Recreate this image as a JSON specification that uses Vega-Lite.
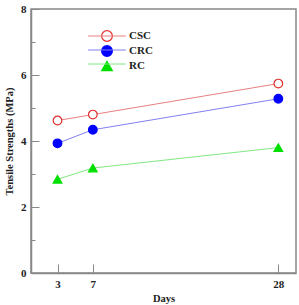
{
  "$schema": "https://vega.github.io/schema/vega-lite/v6.json",
  "width": 265,
  "height": 264,
  "autosize": {"type": "none"},
  "padding": {"left": 31, "top": 9, "right": 3, "bottom": 32},
  "background": "white",
  "config": {
    "view": {"stroke": "#888888", "strokeWidth": 1.5},
    "font": "Liberation Serif",
    "axis": {"domainColor": "#888888", "domainWidth": 1.5, "tickColor": "#888888", "grid": false,
      "labelFont": "Liberation Serif", "labelFontWeight": "bold", "labelFontSize": 11, "labelColor": "#222222",
      "titleFont": "Liberation Serif", "titleFontWeight": "bold", "titleFontSize": 10.5, "titleColor": "#222222"},
    "legend": {"labelFont": "Liberation Serif", "labelFontWeight": "bold", "labelFontSize": 11, "labelColor": "#222222", "padding": 0}
  },
  "data": {"values": [
    {"series": "CSC", "day": 3, "strength": 4.62},
    {"series": "CSC", "day": 7, "strength": 4.8},
    {"series": "CSC", "day": 28, "strength": 5.74},
    {"series": "CRC", "day": 3, "strength": 3.93},
    {"series": "CRC", "day": 7, "strength": 4.34},
    {"series": "CRC", "day": 28, "strength": 5.28},
    {"series": "RC", "day": 3, "strength": 2.84},
    {"series": "RC", "day": 7, "strength": 3.18},
    {"series": "RC", "day": 28, "strength": 3.8}
  ]},
  "layer": [
    {
      "mark": {"type": "line", "strokeWidth": 1},
      "encoding": {
        "x": {"field": "day", "type": "quantitative", "scale": {"domain": [0, 30], "nice": false},
          "axis": {"values": [3, 7, 28], "tickSize": -9, "labelPadding": 14, "title": "Days", "titlePadding": 4}},
        "y": {"field": "strength", "type": "quantitative", "scale": {"domain": [0, 8], "nice": false},
          "axis": {"values": [0, 2, 4, 6, 8], "tickSize": -8, "labelPadding": 13, "title": "Tensile Strengths (MPa)", "titlePadding": 6}},
        "stroke": {"field": "series", "type": "nominal", "sort": ["CSC", "CRC", "RC"],
          "scale": {"range": ["#e88080", "#8080f0", "#80e880"]},
          "legend": {"orient": "none", "legendX": 70, "legendY": 21, "title": null, "symbolType": "M-3.6,0H3.6", "symbolSize": 110, "symbolStrokeWidth": 1, "rowPadding": 3, "labelOpacity": 0, "labelOffset": 16}}
      }
    },
    {
      "mark": {"type": "point", "size": 75, "strokeWidth": 1.2, "opacity": 1},
      "encoding": {
        "x": {"field": "day", "type": "quantitative"},
        "y": {"field": "strength", "type": "quantitative",
          "axis": {"values": [1, 3, 5, 7], "orient": "left", "tickSize": -4, "labels": false, "domain": false, "title": null}},
        "shape": {"field": "series", "type": "nominal",
          "scale": {"domain": ["CSC", "CRC", "RC"], "range": ["circle", "circle", "triangle-up"]},
          "legend": {"orient": "none", "legendX": 70, "legendY": 21, "title": null, "symbolSize": 115, "symbolStrokeWidth": 1.2, "rowPadding": -1, "labelOffset": 16}},
        "color": {"field": "series", "type": "nominal",
          "scale": {"domain": ["CSC", "CRC", "RC"], "range": ["#e03030", "#0000ff", "#00e000"]},
          "legend": {"orient": "none", "legendX": 70, "legendY": 21, "title": null, "symbolSize": 115, "symbolStrokeWidth": 1.2, "rowPadding": -1, "labelOffset": 16}},
        "fill": {"field": "series", "type": "nominal",
          "scale": {"domain": ["CSC", "CRC", "RC"], "range": ["#ffffff", "#0000ff", "#00e000"]},
          "legend": {"orient": "none", "legendX": 70, "legendY": 21, "title": null, "symbolSize": 115, "symbolStrokeWidth": 1.2, "rowPadding": -1, "labelOffset": 16}}
      }
    }
  ],
  "resolve": {"axis": {"y": "independent"}, "scale": {"stroke": "independent"}},
  "encoding": {}
}
